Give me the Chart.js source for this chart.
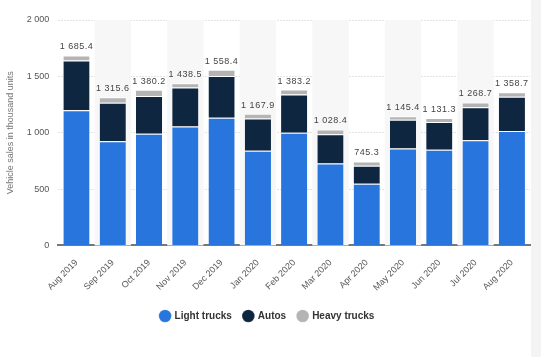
<!DOCTYPE html>
<html><head><meta charset="utf-8">
<script src="https://cdn.jsdelivr.net/npm/chart.js@4"></script>
<style>html,body{margin:0;padding:0;background:#fff;}#wrap{width:541px;height:357px;position:relative;}</style>
</head><body><div id="wrap"><canvas id="c" width="541" height="357"></canvas></div>
<script>
const categories = ["Aug 2019","Sep 2019","Oct 2019","Nov 2019","Dec 2019","Jan 2020","Feb 2020","Mar 2020","Apr 2020","May 2020","Jun 2020","Jul 2020","Aug 2020"];
const lightTrucks = [1200, 925, 990, 1055, 1132, 840, 1000, 727, 547, 860, 848, 934, 1016];
const autos = [440, 340, 335, 345, 372, 285, 340, 260, 160, 255, 248, 292, 302];
const heavyTrucks = [45.4, 50.6, 55.2, 38.5, 54.4, 42.9, 43.2, 41.4, 38.3, 30.4, 35.3, 42.7, 40.7];
const totals = [1685.4, 1315.6, 1380.2, 1438.5, 1558.4, 1167.9, 1383.2, 1028.4, 745.3, 1145.4, 1131.3, 1268.7, 1358.7];
const yTicks = [0, 500, 1000, 1500, 2000];

const FONT = '"Liberation Sans", Arial, sans-serif';

function fmt(v, dec){
  const s = v.toFixed(dec);
  const parts = s.split('.');
  parts[0] = parts[0].replace(/\B(?=(\d{3})+(?!\d))/g, ' ');
  return parts.join('.');
}

const bandPlugin = {
  id: 'bands',
  beforeDraw(chart){
    const {ctx} = chart;
    ctx.save();
    ctx.fillStyle = '#f4f4f4';
    ctx.fillRect(531, 0, 10, chart.height);
    ctx.restore();
  },
  beforeDatasetsDraw(chart){
    const {ctx, chartArea, scales:{x}} = chart;
    ctx.save();
    ctx.fillStyle = '#f7f7f7';
    const w = x.getPixelForValue(1) - x.getPixelForValue(0);
    for (let i = 1; i < categories.length; i += 2){
      const cx = x.getPixelForValue(i);
      ctx.fillRect(cx - w/2, chartArea.top, w, chartArea.bottom - chartArea.top);
    }
    ctx.restore();
  }
};

const labelPlugin = {
  id: 'totals',
  afterDatasetsDraw(chart){
    const {ctx, scales:{x, y}} = chart;
    ctx.save();
    ctx.font = '9px ' + FONT;
    ctx.fillStyle = '#444';
    ctx.textAlign = 'center';
    ctx.textBaseline = 'bottom';
    if ('letterSpacing' in ctx) ctx.letterSpacing = '0.5px';
    totals.forEach((t, i) => {
      ctx.fillText(fmt(t, 1), x.getPixelForValue(i), y.getPixelForValue(t) - 4);
    });
    ctx.restore();
  }
};

new Chart(document.getElementById('c'), {
  type: 'bar',
  data: {
    labels: categories,
    datasets: [
      {label: 'Light trucks', data: lightTrucks, backgroundColor: '#2876dd', borderColor: '#ffffff', borderWidth: {top: 1}, borderSkipped: 'bottom'},
      {label: 'Autos', data: autos, backgroundColor: '#0f2640', borderColor: '#ffffff', borderWidth: {top: 1}, borderSkipped: 'bottom'},
      {label: 'Heavy trucks', data: heavyTrucks, backgroundColor: '#b4b4b4', borderColor: '#ffffff', borderWidth: {top: 1}, borderSkipped: 'bottom'}
    ]
  },
  options: {
    responsive: false,
    animation: false,
    layout: {padding: {left: 5, right: 11, top: 20, bottom: 26}},
    datasets: {bar: {barPercentage: 0.76, categoryPercentage: 0.95}},
    scales: {
      x: {
        stacked: true,
        afterFit(scale){ scale.height += 2; },
        grid: {display: false},
        border: {display: true, color: '#777', width: 2},
        ticks: {color: '#555', font: {size: 9, family: FONT}, minRotation: 45, maxRotation: 45, padding: 4}
      },
      y: {
        stacked: true,
        min: 0, max: 2000,
        afterBuildTicks(axis){ axis.ticks = yTicks.map(v => ({value: v})); },
        grid: {color: '#e3e3e3', lineWidth: 1, drawTicks: false},
        border: {display: false, dash: [2,1]},
        ticks: {color: '#555', padding: 9, font: {size: 9, family: FONT}, callback: v => fmt(v, 0)},
        title: {display: true, text: 'Vehicle sales in thousand units', color: '#777', font: {size: 9, family: FONT}, padding: {top: 0, bottom: 2}}
      }
    },
    plugins: {
      legend: {
        position: 'bottom',
        labels: {usePointStyle: true, pointStyle: 'circle', boxWidth: 9, boxHeight: 9, padding: 12, color: '#333', font: {size: 10, weight: 'bold', family: FONT}}
      },
      tooltip: {enabled: false}
    }
  },
  plugins: [bandPlugin, labelPlugin]
});
</script></body></html>
